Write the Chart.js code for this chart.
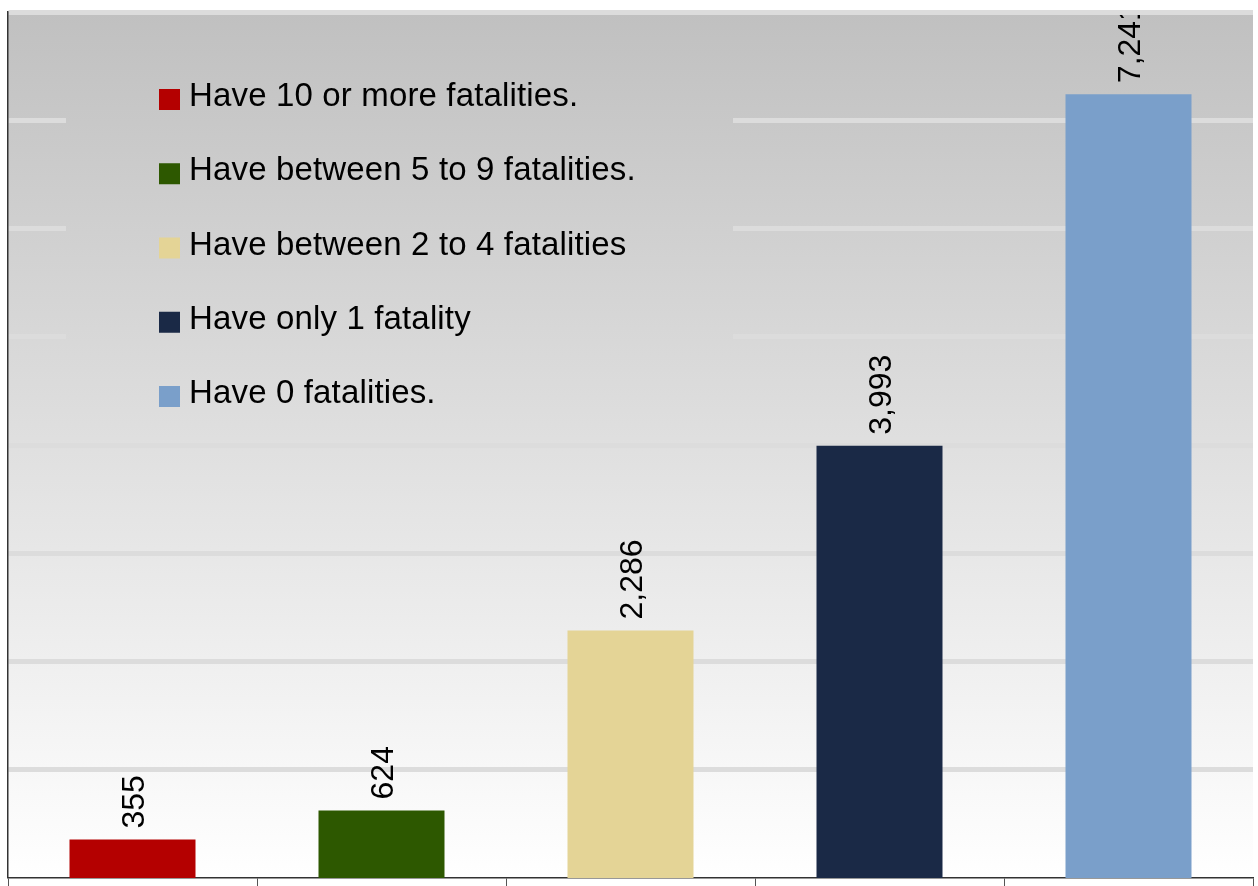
<!DOCTYPE html>
<html>
<head>
<meta charset="utf-8">
<script src="https://cdn.jsdelivr.net/npm/chart.js@4.4.0/dist/chart.umd.min.js"></script>
<style>
html,body{margin:0;padding:0;background:#ffffff;}
#wrap{width:1258px;height:886px;position:relative;}
</style>
</head>
<body>
<div id="wrap"><canvas id="c" width="1258" height="886"></canvas></div>
<script>
const categories = [
  "Have 10 or more fatalities.",
  "Have between 5 to 9 fatalities.",
  "Have between 2 to 4 fatalities",
  "Have only 1 fatality",
  "Have 0 fatalities."
];
const values = [355, 624, 2286, 3993, 7241];
const barColors = ["#b40000", "#2d5800", "#e4d496", "#1a2946", "#7a9fca"];
const yMin = 0;
const yMax = 8000;
const yStep = 1000;

const FONT = "'Liberation Sans', Arial, sans-serif";

const bgPlugin = {
  id: 'bg',
  beforeDraw(chart) {
    const {ctx, chartArea: a} = chart;
    const g = ctx.createLinearGradient(0, a.top, 0, a.bottom);
    g.addColorStop(0, '#c0c0c0');
    g.addColorStop(1, '#ffffff');
    ctx.save();
    ctx.fillStyle = g;
    ctx.fillRect(a.left, a.top, a.right - a.left, a.bottom - a.top);
    ctx.restore();
  }
};

const legendPlugin = {
  id: 'insideLegend',
  beforeDatasetsDraw(chart) {
    const {ctx, chartArea: a} = chart;
    const g = ctx.createLinearGradient(0, a.top, 0, a.bottom);
    g.addColorStop(0, '#c0c0c0');
    g.addColorStop(1, '#ffffff');
    ctx.save();
    ctx.fillStyle = g;
    ctx.fillRect(66, 30, 667, 400);
    ctx.font = '33px ' + FONT;
    if ('letterSpacing' in ctx) ctx.letterSpacing = '0.15px';
    ctx.textAlign = 'left';
    ctx.textBaseline = 'alphabetic';
    categories.forEach((lab, i) => {
      const top = 89 + i * 74.25;
      ctx.fillStyle = barColors[i];
      ctx.fillRect(159, top, 21, 21);
      ctx.fillStyle = '#000000';
      ctx.fillText(lab, 189, top + 17);
    });
    ctx.restore();
  }
};

const labelPlugin = {
  id: 'valueLabels',
  afterDatasetsDraw(chart) {
    const {ctx, chartArea: a} = chart;
    const meta = chart.getDatasetMeta(0);
    const fs = 32;
    ctx.save();
    ctx.beginPath();
    ctx.rect(a.left, a.top + 3, a.right - a.left, a.bottom - a.top);
    ctx.clip();
    ctx.font = fs + 'px ' + FONT;
    ctx.fillStyle = '#000000';
    ctx.textAlign = 'left';
    ctx.textBaseline = 'alphabetic';
    meta.data.forEach((bar, i) => {
      const txt = values[i].toLocaleString('en-US');
      ctx.save();
      ctx.translate(bar.x + fs * 0.36, bar.y - 11);
      ctx.rotate(-Math.PI / 2);
      ctx.fillText(txt, 0, 0);
      ctx.restore();
    });
    ctx.restore();
  }
};

new Chart(document.getElementById('c'), {
  type: 'bar',
  data: {
    labels: categories,
    datasets: [{
      data: values,
      backgroundColor: barColors,
      borderWidth: 0,
      categoryPercentage: 1,
      barPercentage: 0.506
    }]
  },
  options: {
    responsive: false,
    animation: false,
    devicePixelRatio: 1,
    layout: {padding: {top: 12, left: 8, right: 5, bottom: 0}},
    plugins: {legend: {display: false}, tooltip: {enabled: false}, title: {display: false}},
    scales: {
      x: {
        offset: true,
        ticks: {display: false},
        grid: {offset: true, drawOnChartArea: false, drawTicks: true, tickLength: 8, color: '#555555', lineWidth: 1},
        border: {display: true, color: '#333333', width: 1.5}
      },
      y: {
        min: yMin,
        max: yMax,
        ticks: {display: false, stepSize: yStep},
        grid: {
          drawTicks: false,
          lineWidth: (c) => (c.tick && c.tick.value === 0) ? 0 : 5,
          color: '#dcdcdc'
        },
        border: {display: true, color: '#333333', width: 1.5}
      }
    }
  },
  plugins: [bgPlugin, legendPlugin, labelPlugin]
});
</script>
</body>
</html>
